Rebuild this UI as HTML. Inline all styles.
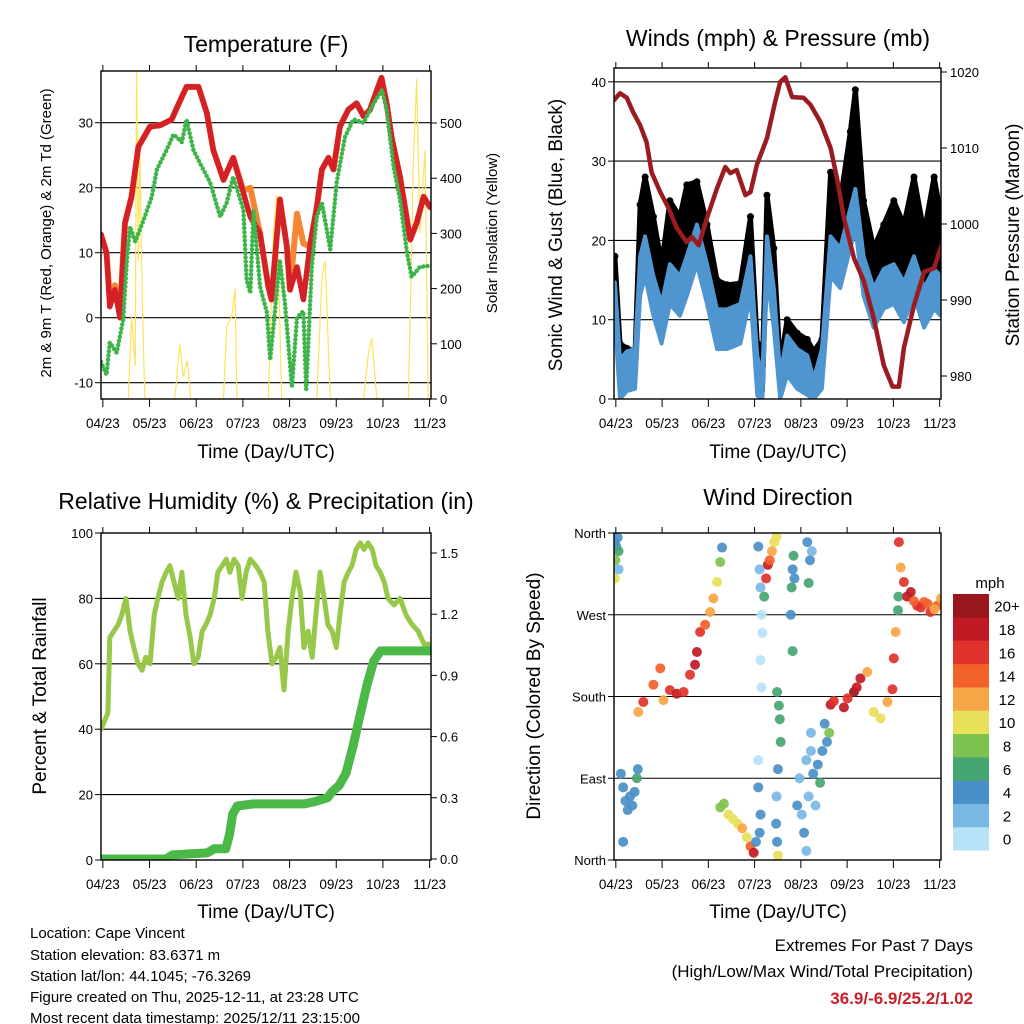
<!DOCTYPE html>
<html><head><meta charset="utf-8"><title>Cape Vincent Station</title>
<style>
html,body{margin:0;padding:0;background:#fff;}
svg{display:block;font-family:"Liberation Sans",Arial,sans-serif;}
</style></head>
<body>
<svg id="chart" xmlns="http://www.w3.org/2000/svg" width="1024" height="1024" viewBox="0 0 1024 1024">
<rect x="0" y="0" width="1024" height="1024" fill="#fff"/>
<text x="266" y="52" font-size="23" text-anchor="middle">Temperature (F)</text>
<text x="778" y="46" font-size="23" text-anchor="middle">Winds (mph) &amp; Pressure (mb)</text>
<text x="266" y="509" font-size="23" text-anchor="middle">Relative Humidity (%) &amp; Precipitation (in)</text>
<text x="778" y="505" font-size="23" text-anchor="middle">Wind Direction</text>
<text x="266" y="458" font-size="19" text-anchor="middle">Time (Day/UTC)</text>
<text x="778" y="458" font-size="19" text-anchor="middle">Time (Day/UTC)</text>
<text x="266" y="918" font-size="19" text-anchor="middle">Time (Day/UTC)</text>
<text x="778" y="918" font-size="19" text-anchor="middle">Time (Day/UTC)</text>
<text transform="translate(51,233) rotate(-90)" font-size="15" text-anchor="middle">2m &amp; 9m T (Red, Orange) &amp; 2m Td (Green)</text>
<text transform="translate(497,233) rotate(-90)" font-size="15" text-anchor="middle">Solar Insolation (Yellow)</text>
<text transform="translate(562,235) rotate(-90)" font-size="19" text-anchor="middle">Sonic Wind &amp; Gust (Blue, Black)</text>
<text transform="translate(1019,235) rotate(-90)" font-size="19" text-anchor="middle">Station Pressure (Maroon)</text>
<text transform="translate(46,696) rotate(-90)" font-size="19" text-anchor="middle">Percent &amp; Total Rainfall</text>
<text transform="translate(540,696) rotate(-90)" font-size="19" text-anchor="middle">Direction (Colored By Speed)</text>
<g font-size="15">
<text x="30" y="938">Location: Cape Vincent</text>
<text x="30" y="960">Station elevation: 83.6371 m</text>
<text x="30" y="981">Station lat/lon: 44.1045; -76.3269</text>
<text x="30" y="1002">Figure created on Thu, 2025-12-11, at 23:28 UTC</text>
<text x="30" y="1023">Most recent data timestamp: 2025/12/11 23:15:00</text>
</g>
<g text-anchor="end">
<text x="973" y="951" font-size="17">Extremes For Past 7 Days</text>
<text x="973" y="977" font-size="17">(High/Low/Max Wind/Total Precipitation)</text>
<text x="973" y="1004" font-size="17" font-weight="bold" fill="#c8202a">36.9/-6.9/25.2/1.02</text>
</g>
</svg>
<script>
// ---------- DATA ----------
const xTickDays = [0.04,1.05,2.06,3.07,4.08,5.09,6.1,7.11];
const xTickLabels = ["04/23","05/23","06/23","07/23","08/23","09/23","10/23","11/23"];
const tempTicks = [-10,0,10,20,30];
const solarTicks = [0,100,200,300,400,500];
const windTicks = [0,10,20,30,40];
const pressTicks = [980,990,1000,1010,1020];
const rhTicks = [0,20,40,60,80,100];
const precipTicks = [0.0,0.3,0.6,0.9,1.2,1.5];
const precipTickLabels = ["0.0","0.3","0.6","0.9","1.2","1.5"];
const dirTicks = [0,90,180,270,360];
const dirLabels = ["North","East","South","West","North"];
const speedBins = ["0","2","4","6","8","10","12","14","16","18","20+"];
const binColors = ["#b7e2f8","#7ab8e4","#4a90c8","#46a672","#7dc24e","#e8e05a","#f7a647","#f2612a","#e0322a","#c21a24","#98161c"];

const tempDays = [0,0.12,0.19,0.30,0.41,0.52,0.66,0.81,1.06,1.28,1.53,1.75,1.85,2.11,2.29,2.43,2.65,2.86,3.08,3.23,3.44,3.62,3.69,3.87,4.02,4.09,4.24,4.38,4.52,4.67,4.78,4.92,5.03,5.17,5.35,5.53,5.68,5.82,5.97,6.07,6.18,6.29,6.47,6.69,6.83,6.98,7.12];
const temp2m = [12.8,10,1.7,4.3,0,14.6,18.6,26.3,29.4,29.6,30.5,34,35.5,35.5,31.5,25.8,21.2,24.6,19.2,15.5,13,4.8,2.8,18.2,11,4.3,7.8,2.8,11,17,22.8,24.6,22.8,29.4,32,33,31,32,35,36.9,33,27.7,21.7,12,14.6,18.6,17];
const temp9m = [12.8,10,3,5,1,14.6,18.6,26.3,29.4,29.6,30.5,34,35.5,35.5,31.5,25.8,21.2,24.6,19.5,20,13,4.8,2.8,18.2,11,4.3,16,11.4,11,17,22.8,24.6,22.8,29.4,32,33,31,32,35,36.9,33,27.7,21.7,12,14.6,18.6,17];
const dewDays = [0,0.12,0.19,0.34,0.48,0.56,0.63,0.74,0.92,1.1,1.21,1.42,1.57,1.75,1.85,2.0,2.14,2.36,2.58,2.72,2.86,3.08,3.15,3.23,3.30,3.44,3.59,3.66,3.87,3.98,4.13,4.24,4.38,4.44,4.56,4.67,4.78,4.96,5.1,5.28,5.46,5.68,5.9,6.08,6.18,6.33,6.47,6.62,6.72,6.9,7.12];
const dew2m = [-6.8,-8.8,-3.8,-5.4,-0.3,8.9,14,11.7,15,18.6,22.8,25.8,28.2,27,30.5,25.8,23.8,20.8,15.5,17.7,21.7,16.6,5.8,3.8,16.6,4.8,0.8,-6.5,8.9,2.3,-10.6,0,1,-11,7.8,15.5,17.7,10.5,20.8,27.8,30.5,30,33,35,32,23.2,18.2,10,6.3,7.8,8];
const solarDays = [0,0.59,0.66,0.74,0.77,0.81,0.84,0.9,0.95,1.6,1.7,1.78,1.87,1.94,2.65,2.72,2.83,2.9,2.94,3.62,3.73,3.8,3.91,4.67,4.78,4.85,4.96,5.68,5.79,5.86,5.97,6.65,6.76,6.83,6.9,7.01,7.08,7.14];
const solarVals = [0,0,150,60,600,250,450,150,0,0,100,40,70,0,0,130,150,200,0,0,300,370,0,0,220,250,0,0,85,110,0,0,430,580,300,450,0,0];

const windDays = [0.02,0.13,0.28,0.46,0.57,0.68,0.86,1.04,1.22,1.44,1.59,1.81,2.03,2.25,2.47,2.76,2.98,3.13,3.24,3.34,3.49,3.63,3.78,4.0,4.22,4.36,4.54,4.73,4.94,5.16,5.27,5.45,5.67,5.89,6.11,6.33,6.55,6.77,6.99,7.13];
const windMean = [12.7,3,4,4.3,16,18.5,13.5,10,15,13.5,16,20,15,9.3,9.3,10,16,3.4,1,18.5,12,1,6,4.3,3.5,0.5,4.3,18.5,17,22,24.5,16,12,14.4,15,12.7,16,12,14.4,13.5];
const windGust = [18,7,6.4,6,24.5,28,23,17,25,23,27,27.4,22,15,14.4,14.6,23,7,4.3,25.7,19,4.3,10,8.3,7.5,6,7.5,28.6,25,33.7,39,25,19,22,25,22,28,21,28,23.5];
const pressDays = [0,0.13,0.28,0.42,0.57,0.71,0.82,1.01,1.19,1.37,1.59,1.7,1.85,2.03,2.25,2.43,2.54,2.68,2.87,2.98,3.12,3.34,3.52,3.63,3.74,3.89,4.14,4.29,4.51,4.73,4.87,5.02,5.24,5.46,5.67,5.89,6.08,6.22,6.33,6.55,6.77,6.99,7.15];
const pressVals = [1016.3,1017.2,1016.6,1014.7,1013,1010.8,1006.8,1004.2,1002.1,999.5,997.6,998.3,997.2,1000.8,1004.7,1007.5,1006.7,1007.1,1003.8,1004.2,1007.8,1011.3,1016.1,1018.7,1019.3,1016.7,1016.6,1015.7,1013.4,1010,1006,1000.8,995.5,992.4,987.6,981.4,978.6,978.6,983.7,989.3,993.7,994.2,997.2];

const rhDays = [0,0.06,0.15,0.19,0.28,0.37,0.45,0.54,0.63,0.71,0.8,0.89,0.97,1.06,1.15,1.23,1.32,1.41,1.49,1.58,1.67,1.75,1.84,1.93,2.01,2.1,2.19,2.27,2.36,2.45,2.53,2.62,2.71,2.79,2.88,2.97,3.05,3.14,3.23,3.35,3.44,3.53,3.61,3.7,3.79,3.87,3.96,4.05,4.13,4.22,4.31,4.39,4.48,4.57,4.65,4.74,4.83,4.91,5.0,5.09,5.17,5.26,5.35,5.43,5.52,5.61,5.69,5.78,5.87,5.95,6.04,6.13,6.21,6.34,6.47,6.6,6.73,6.86,6.99,7.14];
const rhVals = [40,42,45,68,70,72,75,80,70,65,60,58,62,60,75,80,85,88,90,85,80,88,75,68,60,62,70,72,75,80,88,90,92,88,92,90,80,88,92,90,88,85,70,60,62,65,52,70,80,88,82,65,70,62,75,88,80,72,70,65,75,85,88,90,95,97,95,97,95,90,88,85,80,78,80,75,72,70,66,66];
const precipDays = [0,1.4,1.55,2.3,2.45,2.7,2.78,2.85,2.95,3.3,4.4,4.6,4.9,5.0,5.15,5.3,5.45,5.6,5.75,5.9,6.05,7.14];
const precipVals = [0,0,0.02,0.03,0.05,0.05,0.12,0.22,0.26,0.27,0.27,0.28,0.3,0.33,0.36,0.42,0.55,0.7,0.85,0.97,1.02,1.02];

const dirDays = [0.02,0.05,0.08,0.1,0.03,0.02,0.1,0.15,0.2,0.25,0.3,0.35,0.4,0.45,0.5,0.52,0.2,
0.53,0.64,0.86,1.01,1.08,1.22,1.37,1.52,1.66,1.77,1.81,1.88,1.99,2.1,2.17,2.25,2.32,2.36,
2.32,2.4,2.5,2.6,2.7,2.8,2.9,2.98,3.05,3.1,
3.15,3.18,3.2,3.22,3.24,3.2,3.22,3.15,3.15,3.2,3.18,
3.28,3.32,3.36,3.4,3.45,3.5,3.55,
3.56,3.6,3.62,3.64,3.58,3.55,3.54,3.56,3.58,3.88,3.9,3.92,3.86,3.9,3.94,
4.0,4.05,4.1,4.15,4.2,4.25,4.3,4.35,4.4,4.45,4.5,4.55,4.6,4.65,4.2,4.3,4.22,4.28,4.32,4.25,
4.73,5.02,5.24,5.38,5.53,5.67,5.82,5.97,6.08,6.11,6.15,4.7,4.8,5.1,5.3,
6.22,6.26,6.33,6.48,6.62,6.77,6.91,7.06,7.14,6.21,6.2,6.4,6.55,6.7,6.85,7.0];
const dirVals = [350,345,355,340,330,310,320,95,80,65,55,70,60,75,90,100,20,
163,174,193,211,176,187,183,185,204,215,229,251,259,273,288,306,328,344,
58,62,50,45,40,35,25,15,8,20,
345,320,300,270,250,220,190,110,80,50,30,
290,310,325,330,340,350,356,
185,170,155,130,100,70,40,20,5,300,320,335,270,230,310,
60,90,50,30,110,70,120,95,60,105,85,120,150,130,10,140,350,330,340,305,
171,168,185,200,207,163,156,174,188,222,251,140,175,178,190,
350,322,306,295,280,284,273,280,288,290,275,290,285,278,282,276];
const dirSpeeds = [4,4,4,6,8,10,2,4,4,4,4,4,4,4,6,4,4,
12,17,15,14,13,16,19,16,17,19,19,17,14,13,12,10,8,4,
8,8,10,10,10,12,10,14,18,4,
4,2,2,0,0,0,0,0,4,4,4,
6,16,18,14,12,10,10,
6,6,6,6,4,2,4,4,10,6,4,6,4,6,4,
4,2,2,4,2,2,2,4,2,4,6,4,4,4,2,2,4,4,2,6,
19,18,20,18,13,11,10,13,16,16,12,8,17,16,19,
16,13,16,19,17,14,16,14,13,6,6,18,15,16,14,12];

// ---------- HELPERS ----------
const NS="http://www.w3.org/2000/svg";
const svg=document.getElementById('chart');
function mk(tag,attrs,parent){const e=document.createElementNS(NS,tag);for(const k in attrs)e.setAttribute(k,attrs[k]);(parent||svg).appendChild(e);return e;}
function xScaleFor(P){return d=>P.l+d/7.14*(P.r-P.l);}
function pathFrom(xs,ys,fx,fy){let s='';for(let i=0;i<xs.length;i++){s+=(i?'L':'M')+fx(xs[i]).toFixed(1)+','+fy(ys[i]).toFixed(1);}return s;}
let clipN=0;
function clipFor(P){const id='clip'+(clipN++);const c=mk('clipPath',{id:id});mk('rect',{x:P.l,y:P.t,width:P.r-P.l,height:P.b-P.t},c);return 'url(#'+id+')';}

const P1={l:101,r:431,t:71,b:399}, P2={l:614,r:941,t:68,b:399}, P3={l:101,r:431,t:533,b:860}, P4={l:614,r:941,t:533,b:860};
const yTemp=v=>317.7-6.5*v, ySolar=v=>399-0.552*v;
const yWind=v=>399-7.93*v, yPress=p=>72+(1020-p)*7.6;
const yRH=v=>860-3.27*v, yPrecip=v=>859-204*v;
const yDir=v=>860-v/360*327;

function hgrid(P,vals,f,g){vals.forEach(v=>{const y=f(v);if(y>P.t+1&&y<P.b-1){const l=mk('line',{x1:P.l,x2:P.r,y1:y,y2:y,stroke:'#000','stroke-width':1.1},g);}});}
function yAxis(vals,labs,f,side,P,g,size){
  vals.forEach((v,i)=>{
    const y=f(v);
    if(side==='left'){mk('line',{x1:P.l-6,x2:P.l,y1:y,y2:y,stroke:'#000'},g);}
    else{mk('line',{x1:P.r,x2:P.r+6,y1:y,y2:y,stroke:'#000'},g);}
    const t=mk('text',{x:side==='left'?P.l-8:P.r+9,y:y+5,'font-size':size||13,'text-anchor':side==='left'?'end':'start'},g);
    
    
    t.textContent=labs[i];
  });
}
function xAxis(P,g){
  const x=xScaleFor(P);
  xTickDays.forEach((d,i)=>{
    mk('line',{x1:x(d),x2:x(d),y1:P.b,y2:P.b+8,stroke:'#000'},g);
    mk('line',{x1:x(d),x2:x(d),y1:P.t,y2:P.t-6,stroke:'#000'},g);
    const t=mk('text',{x:x(d),y:P.b+29,'font-size':13.5,'text-anchor':'middle'},g);
    
    
    t.textContent=xTickLabels[i];
  });
}
function border(P,g){
  const r=mk('rect',{x:P.l,y:P.t,width:P.r-P.l,height:P.b-P.t,fill:'none',stroke:'#000','stroke-width':1.4},g);
  
  
}
function panel(name){const g=mk('g',{});return g;}

// ---------- PANEL 1: TEMPERATURE ----------
(function(){
  const P=P1,x=xScaleFor(P),g=panel('temperature-panel');
  hgrid(P,tempTicks,yTemp,g);
  const pg=mk('g',{'clip-path':clipFor(P)},g);
  const sol=mk('path',{d:pathFrom(solarDays,solarVals,x,ySolar),fill:'none',stroke:'#fde35c','stroke-width':1.2},pg);
  
  
  const o=mk('path',{d:pathFrom(tempDays,temp9m,x,yTemp),fill:'none',stroke:'#f58634','stroke-width':6,'stroke-linejoin':'round','stroke-linecap':'round'},pg);
  
  
  const r=mk('path',{d:pathFrom(tempDays,temp2m,x,yTemp),fill:'none',stroke:'#d42027','stroke-width':5.5,'stroke-linejoin':'round','stroke-linecap':'round'},pg);
  
  
  const gr=mk('path',{d:pathFrom(dewDays,dew2m,x,yTemp),fill:'none',stroke:'#3db54a','stroke-width':4.5,'stroke-dasharray':'0 4.2','stroke-linecap':'round','stroke-linejoin':'round'},pg);
  
  
  yAxis(tempTicks,tempTicks.map(String),yTemp,'left',P,g);
  yAxis(solarTicks,solarTicks.map(String),ySolar,'right',P,g);
  xAxis(P,g);
  border(P,g);
})();

// ---------- PANEL 2: WINDS ----------
(function(){
  const P=P2,x=xScaleFor(P),g=panel('winds-panel');
  hgrid(P,windTicks,yWind,g);
  const pg=mk('g',{'clip-path':clipFor(P)},g);
  let top='',bot='';
  for(let i=0;i<windDays.length;i++){top+=(i?'L':'M')+x(windDays[i]).toFixed(1)+','+yWind(windGust[i]).toFixed(1);}
  for(let i=windDays.length-1;i>=0;i--){top+='L'+x(windDays[i]).toFixed(1)+','+yWind(windMean[i]).toFixed(1);}
  const band=mk('path',{d:top+'Z',fill:'#000',stroke:'#000','stroke-width':5,'stroke-linejoin':'round'},pg);
  
  
  windDays.forEach((d,i)=>{
    const c=mk('circle',{cx:x(d),cy:yWind(windGust[i]),r:3.5,fill:'#000'},pg);
    
    
  });
  for(let i=0;i<windDays.length;i++){bot+=(i?'L':'M')+x(windDays[i]).toFixed(1)+','+yWind(windMean[i]+2).toFixed(1);}
  for(let i=windDays.length-1;i>=0;i--){bot+='L'+x(windDays[i]).toFixed(1)+','+yWind(Math.max(0,windMean[i]-3)).toFixed(1);}
  const bl=mk('path',{d:bot+'Z',fill:'#4f95cf',stroke:'#4f95cf','stroke-width':4,'stroke-linejoin':'round'},pg);
  
  
  const pr=mk('path',{d:pathFrom(pressDays,pressVals,x,yPress),fill:'none',stroke:'#9b1c20','stroke-width':4.5,'stroke-linejoin':'round','stroke-linecap':'round'},pg);
  
  
  yAxis(windTicks,windTicks.map(String),yWind,'left',P,g);
  yAxis(pressTicks,pressTicks.map(String),yPress,'right',P,g);
  xAxis(P,g);
  border(P,g);
})();

// ---------- PANEL 3: HUMIDITY ----------
(function(){
  const P=P3,x=xScaleFor(P),g=panel('humidity-panel');
  hgrid(P,rhTicks,yRH,g);
  const pg=mk('g',{'clip-path':clipFor(P)},g);
  const rh=mk('path',{d:pathFrom(rhDays,rhVals,x,yRH),fill:'none',stroke:'#98c84a','stroke-width':5,'stroke-linejoin':'round','stroke-linecap':'round'},pg);
  
  
  const pc=mk('path',{d:pathFrom(precipDays,precipVals,x,yPrecip),fill:'none',stroke:'#4cb848','stroke-width':9,'stroke-linejoin':'round','stroke-linecap':'round'},pg);
  
  
  yAxis(rhTicks,rhTicks.map(String),yRH,'left',P,g);
  yAxis(precipTicks,precipTickLabels,yPrecip,'right',P,g);
  xAxis(P,g);
  border(P,g);
})();

// ---------- PANEL 4: WIND DIRECTION ----------
(function(){
  const P=P4,x=xScaleFor(P),g=panel('wind-direction-panel');
  hgrid(P,dirTicks,yDir,g);
  const pg=mk('g',{'clip-path':clipFor(P)},g);
  dirDays.forEach((d,i)=>{
    const bin=Math.min(10,Math.floor(dirSpeeds[i]/2));
    const c=mk('circle',{cx:x(d),cy:yDir(dirVals[i]),r:5,fill:binColors[bin],'fill-opacity':0.92},pg);
    
    
  });
  yAxis(dirTicks,dirLabels,yDir,'left',P,g);
  xAxis(P,g);
  border(P,g);
  const cb=panel('speed-colorbar');
  const t=mk('text',{x:990,y:588,'font-size':15,'text-anchor':'middle'},cb);
  t.textContent='mph';
  const top=594,h=23.3;
  binColors.forEach((c,i)=>{
    const k=10-i;
    const r=mk('rect',{x:953,y:top+k*h,width:36,height:h+0.3,fill:c},cb);
    
    
    const tx=mk('text',{x:1007,y:top+k*h+h/2+6,'font-size':15,'text-anchor':'middle'},cb);
    tx.textContent=speedBins[i];
  });
})();
</script>
</body></html>
